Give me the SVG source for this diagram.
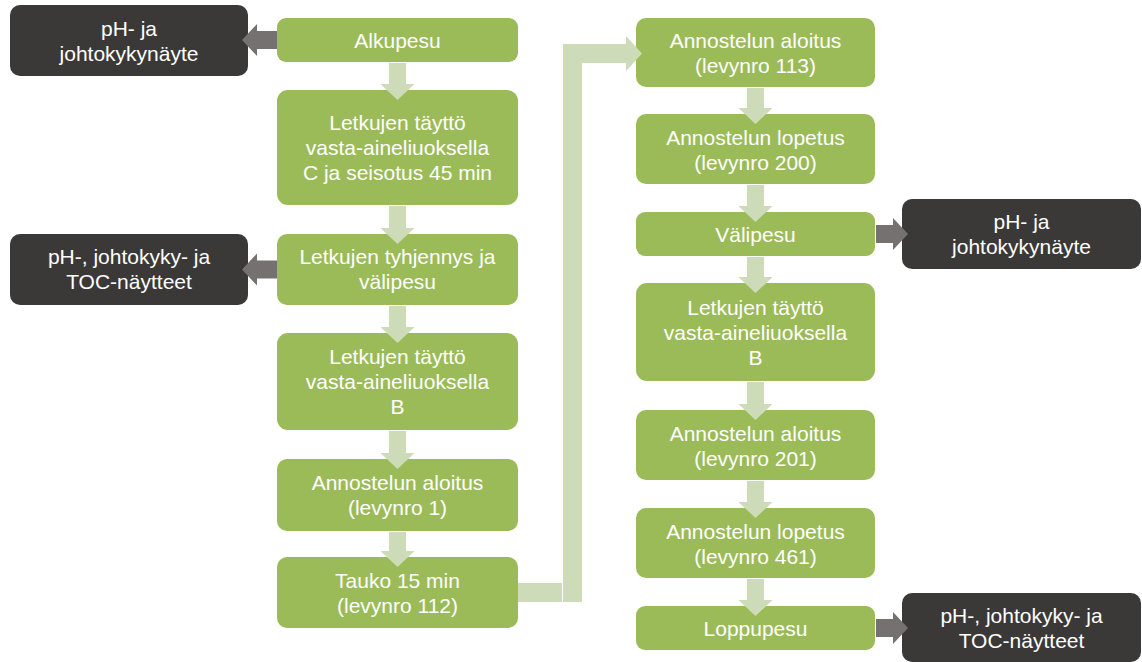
<svg xmlns="http://www.w3.org/2000/svg" width="1142" height="662" viewBox="0 0 1142 662">
<style>
.g{fill:#9BBB59}
.d{fill:#3B3938}
.t{font-family:"Liberation Sans",Arial,sans-serif;font-size:21px;fill:#FFFFFF;text-anchor:middle}
.a{fill:#CDDBB8}
.ga{fill:#767171}
</style>
<rect width="1142" height="662" fill="#FFFFFF"/>
<g id="nodes">
<g id="n-alkupesu"><rect class="g" x="277" y="18" width="241" height="44" rx="9"/><text class="t" x="397.5" y="47.5">Alkupesu</text></g>
<g id="n-tayttoC"><rect class="g" x="277" y="90" width="241" height="115" rx="11"/><text class="t" x="397.5" y="130">Letkujen täyttö</text><text class="t" x="397.5" y="155">vasta-aineliuoksella</text><text class="t" x="397.5" y="180">C ja seisotus 45 min</text></g>
<g id="n-tyhjennys"><rect class="g" x="277" y="234" width="241" height="71" rx="10"/><text class="t" x="397.5" y="264">Letkujen tyhjennys ja</text><text class="t" x="397.5" y="289">välipesu</text></g>
<g id="n-tayttoB1"><rect class="g" x="277" y="333" width="241" height="97" rx="11"/><text class="t" x="397.5" y="364">Letkujen täyttö</text><text class="t" x="397.5" y="389">vasta-aineliuoksella</text><text class="t" x="397.5" y="414">B</text></g>
<g id="n-aloitus1"><rect class="g" x="277" y="459" width="241" height="72" rx="10"/><text class="t" x="397.5" y="490">Annostelun aloitus</text><text class="t" x="397.5" y="515">(levynro 1)</text></g>
<g id="n-tauko"><rect class="g" x="277" y="557" width="241" height="71" rx="10"/><text class="t" x="397.5" y="587.5">Tauko 15 min</text><text class="t" x="397.5" y="612.5">(levynro 112)</text></g>

<g id="n-aloitus113"><rect class="g" x="636" y="18" width="239" height="69" rx="10"/><text class="t" x="755.5" y="48">Annostelun aloitus</text><text class="t" x="755.5" y="73">(levynro 113)</text></g>
<g id="n-lopetus200"><rect class="g" x="636" y="114" width="239" height="70" rx="10"/><text class="t" x="755.5" y="144.5">Annostelun lopetus</text><text class="t" x="755.5" y="169.5">(levynro 200)</text></g>
<g id="n-valipesu"><rect class="g" x="636" y="212" width="239" height="44" rx="9"/><text class="t" x="755.5" y="241.5">Välipesu</text></g>
<g id="n-tayttoB2"><rect class="g" x="636" y="283" width="239" height="98" rx="11"/><text class="t" x="755.5" y="314.5">Letkujen täyttö</text><text class="t" x="755.5" y="339.5">vasta-aineliuoksella</text><text class="t" x="755.5" y="364.5">B</text></g>
<g id="n-aloitus201"><rect class="g" x="636" y="410" width="239" height="70" rx="10"/><text class="t" x="755.5" y="440.5">Annostelun aloitus</text><text class="t" x="755.5" y="465.5">(levynro 201)</text></g>
<g id="n-lopetus461"><rect class="g" x="636" y="508" width="239" height="70" rx="10"/><text class="t" x="755.5" y="538.5">Annostelun lopetus</text><text class="t" x="755.5" y="563.5">(levynro 461)</text></g>
<g id="n-loppupesu"><rect class="g" x="636" y="606" width="239" height="44" rx="9"/><text class="t" x="755.5" y="635.5">Loppupesu</text></g>

<g id="s-1"><rect class="d" x="10" y="5" width="238" height="71" rx="10"/><text class="t" x="129" y="35.5">pH- ja</text><text class="t" x="129" y="60.5">johtokykynäyte</text></g>
<g id="s-2"><rect class="d" x="10" y="234" width="238" height="71" rx="10"/><text class="t" x="129" y="264">pH-, johtokyky- ja</text><text class="t" x="129" y="289">TOC-näytteet</text></g>
<g id="s-3"><rect class="d" x="902" y="199" width="239" height="70" rx="10"/><text class="t" x="1021.5" y="229">pH- ja</text><text class="t" x="1021.5" y="254">johtokykynäyte</text></g>
<g id="s-4"><rect class="d" x="902" y="593" width="239" height="69" rx="10"/><text class="t" x="1021.5" y="623">pH-, johtokyky- ja</text><text class="t" x="1021.5" y="648">TOC-näytteet</text></g>
</g>
<g id="connectors">
<path class="a" d="M389,63H406V84H414.5L397.5,100L380.5,84H389Z"/>
<path class="a" d="M389,206H406V228H414.5L397.5,244L380.5,228H389Z"/>
<path class="a" d="M389,306H406V327H414.5L397.5,343L380.5,327H389Z"/>
<path class="a" d="M389,431H406V453H414.5L397.5,469L380.5,453H389Z"/>
<path class="a" d="M389,532H406V551H414.5L397.5,567L380.5,551H389Z"/>

<rect class="a" x="518" y="583" width="44" height="19"/>
<path class="a" d="M563,602V44H626V36L642,53.5L626,71V63H582V602Z"/>

<path class="a" d="M747,88H764V108H772.5L755.5,124L738.5,108H747Z"/>
<path class="a" d="M747,185H764V206H772.5L755.5,222L738.5,206H747Z"/>
<path class="a" d="M747,257H764V277H772.5L755.5,293L738.5,277H747Z"/>
<path class="a" d="M747,382H764V404H772.5L755.5,420L738.5,404H747Z"/>
<path class="a" d="M747,481H764V502H772.5L755.5,518L738.5,502H747Z"/>
<path class="a" d="M747,579H764V600H772.5L755.5,616L738.5,600H747Z"/>

<path class="ga" d="M277,31V49H257V56L242,40L257,24V31Z"/>
<path class="ga" d="M277,260.5V278.5H257V285.5L242,269.5L257,253.5V260.5Z"/>
<path class="ga" d="M876,225V243H893V250L908,234L893,218V225Z"/>
<path class="ga" d="M876,619V637H893V644L908,628L893,612V619Z"/>
</g>
</svg>
